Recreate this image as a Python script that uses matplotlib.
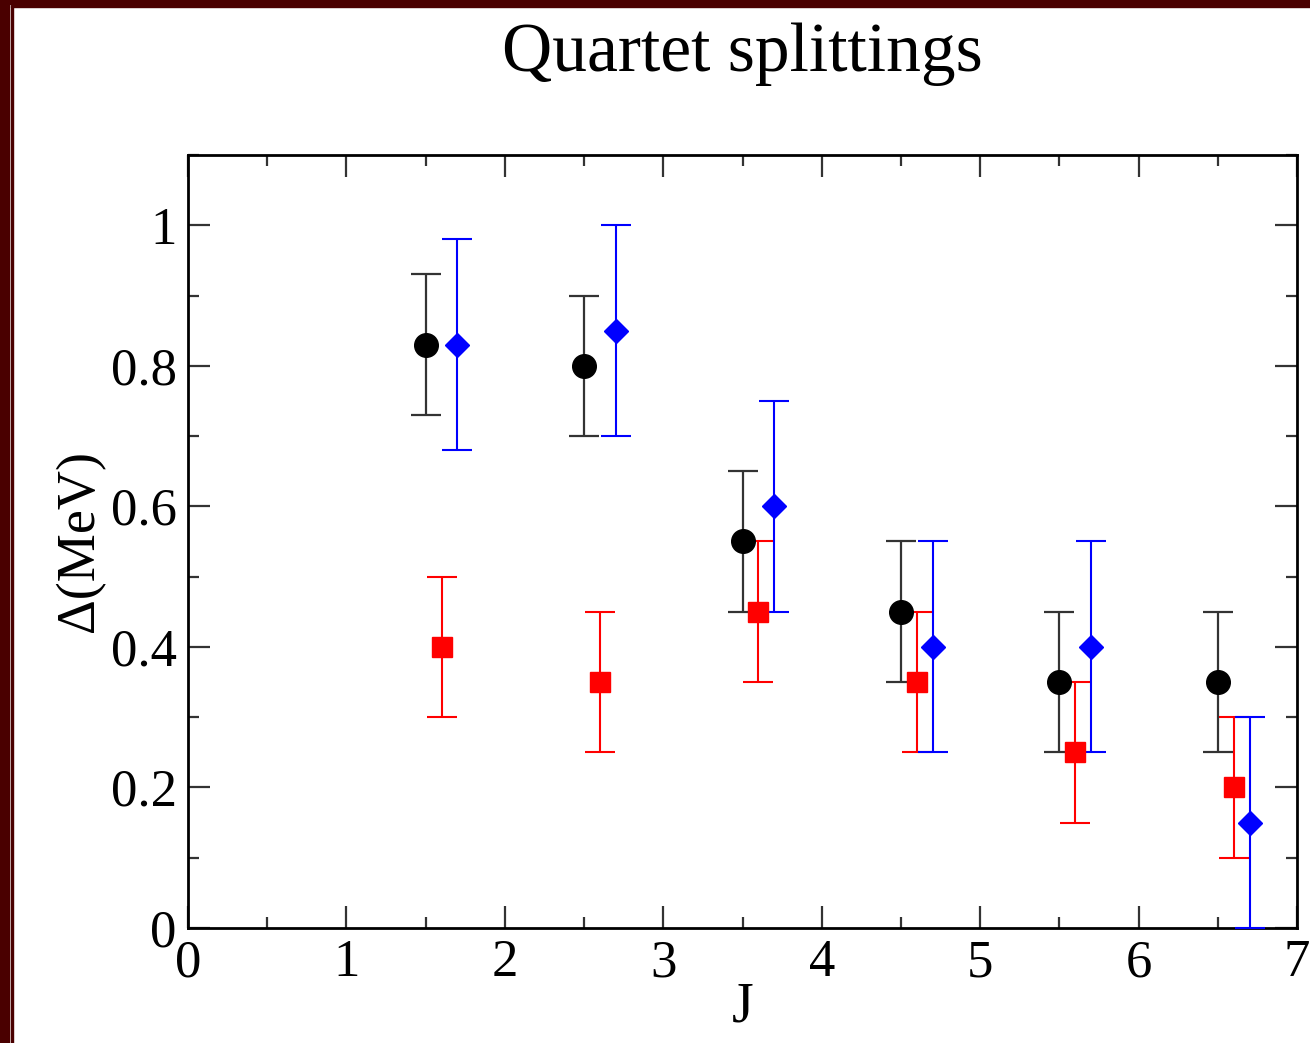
import matplotlib.pyplot as plt
from matplotlib.patches import Rectangle
from matplotlib.ticker import MultipleLocator

plt.rcParams['font.family'] = ['Liberation Serif', 'DejaVu Serif']

# data
j_black = [1.5, 2.5, 3.5, 4.5, 5.5, 6.5]
d_black = [0.83, 0.80, 0.55, 0.45, 0.35, 0.35]
e_black = [0.10, 0.10, 0.10, 0.10, 0.10, 0.10]

j_red = [1.6, 2.6, 3.6, 4.6, 5.6, 6.6]
d_red = [0.40, 0.35, 0.45, 0.35, 0.25, 0.20]
e_red = [0.10, 0.10, 0.10, 0.10, 0.10, 0.10]

j_blue = [1.7, 2.7, 3.7, 4.7, 5.7, 6.7]
d_blue = [0.83, 0.85, 0.60, 0.40, 0.40, 0.15]
e_blue = [0.15, 0.15, 0.15, 0.15, 0.15, 0.15]

fig = plt.figure(figsize=(13.1, 10.43), dpi=100)
ax = fig.add_axes([0.1435, 0.1103, 0.8467, 0.7411])

ax.errorbar(j_black, d_black, yerr=e_black, fmt='o', color='black', ms=17,
            ecolor='#333333', elinewidth=1.6, capsize=11, capthick=1.6, zorder=3)
ax.errorbar(j_red, d_red, yerr=e_red, fmt='s', color='red', ms=14,
            elinewidth=1.5, capsize=11, capthick=1.5, zorder=3)
ax.errorbar(j_blue, d_blue, yerr=e_blue, fmt='D', color='blue', ms=12,
            elinewidth=1.5, capsize=11, capthick=1.5, zorder=3, clip_on=False)

ax.set_xlim(0, 7)
ax.set_ylim(0, 1.1)
ax.xaxis.set_major_locator(MultipleLocator(1))
ax.xaxis.set_minor_locator(MultipleLocator(0.5))
ax.yaxis.set_minor_locator(MultipleLocator(0.1))
ax.set_yticks([0, 0.2, 0.4, 0.6, 0.8, 1.0])
ax.set_yticklabels(['0', '0.2', '0.4', '0.6', '0.8', '1'])

ax.tick_params(which='both', direction='in', top=True, right=True,
               labelsize=38, width=1.6, color='#333333')
ax.tick_params(which='major', length=16, pad=8)
ax.tick_params(which='minor', length=8)
for s in ax.spines.values():
    s.set_linewidth(2)

ax.set_xlabel('J', fontsize=40, labelpad=-4)
ax.set_ylabel('Δ(MeV)', fontsize=39, labelpad=4)
fig.text(0.567, 0.948, 'Quartet splittings', fontsize=50, ha='center', va='center')

# dark red frame round the page
dark = '#4a0000'
fig.patches.append(Rectangle((0, 0), 9 / 1310, 1, transform=fig.transFigure, color=dark))
fig.patches.append(Rectangle((0, 1 - 4 / 1043), 1, 4 / 1043, transform=fig.transFigure, color=dark))
fig.patches.append(Rectangle((11 / 1310, 0), 1.5 / 1310, 1 - 6 / 1043, transform=fig.transFigure, color=dark))
fig.patches.append(Rectangle((11 / 1310, 1 - 7 / 1043), 1, 1.5 / 1043, transform=fig.transFigure, color=dark))

fig.savefig('out.png', dpi=100)
